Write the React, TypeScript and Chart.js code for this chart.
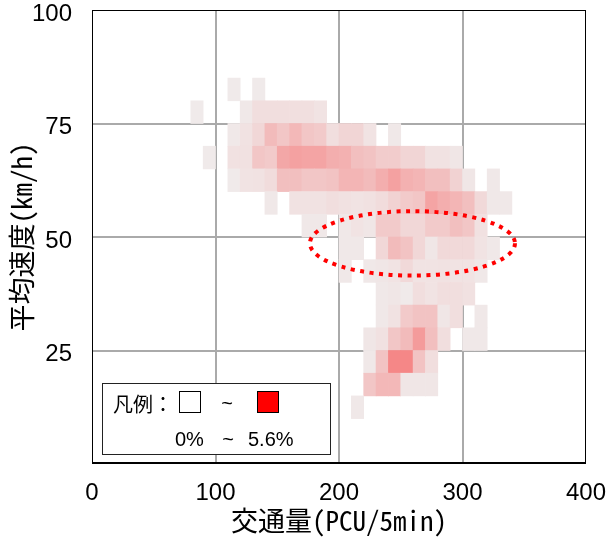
import React, { useEffect, useRef } from 'react';
import { Chart, registerables } from 'chart.js';

Chart.register(...registerables);

// Traffic-flow bins (lower bound, PCU/5min), each 10 wide
const flowBins = [80, 90, 100, 110, 120, 130, 140, 150, 160, 170, 180, 190, 200, 210, 220, 230, 240, 250, 260, 270, 280, 290, 300, 310, 320, 330];
// Speed bins (lower bound, km/h), each 5 high
const speedBins = [80, 75, 70, 65, 60, 55, 50, 45, 40, 35, 30, 25, 20, 15, 10];

// Share of observations (%) per cell, one array per speed bin, aligned with flowBins
const share80 = [0, 0, 0, 0.1, 0, 0.1, 0, 0, 0, 0, 0, 0, 0, 0, 0, 0, 0, 0, 0, 0, 0, 0, 0, 0, 0, 0];
const share75 = [0.1, 0, 0, 0, 0.15, 0.5, 0.5, 0.5, 0.45, 0.45, 0.3, 0, 0, 0, 0, 0, 0, 0, 0, 0, 0, 0, 0, 0, 0, 0];
const share70 = [0, 0, 0, 0.15, 0.35, 0.8, 2.2, 1.6, 2.4, 1.6, 1.4, 0.5, 0.9, 0.9, 0.3, 0, 0.15, 0, 0, 0, 0, 0, 0, 0, 0, 0];
const share65 = [0, 0.1, 0, 0.4, 0.4, 1.6, 1.4, 3.4, 3.8, 3.6, 3.6, 3.0, 2.8, 2.0, 1.8, 1.3, 1.3, 0.9, 0.9, 0.35, 0.35, 0.2, 0, 0, 0, 0];
const share60 = [0, 0, 0, 0.1, 0.3, 0.35, 0.6, 2.0, 2.0, 1.6, 1.6, 1.8, 2.6, 2.6, 2.2, 3.0, 3.8, 2.8, 2.6, 2.0, 2.0, 1.0, 0.2, 0, 0.15, 0];
const share55 = [0, 0, 0, 0, 0, 0, 0.15, 0, 0.35, 0.35, 0.35, 0.5, 0.4, 0.3, 0.4, 0.6, 1.0, 1.4, 1.6, 3.6, 3.0, 2.6, 2.0, 0.7, 0.15, 0.15];
const share50 = [0, 0, 0, 0, 0, 0, 0, 0, 0, 0.15, 0.15, 0, 0.15, 0.3, 0.2, 1.4, 1.4, 0.8, 0.8, 1.4, 1.4, 2.0, 1.6, 0.4, 0, 0];
const share45 = [0, 0, 0, 0, 0, 0, 0, 0, 0, 0, 0, 0, 0.15, 0.15, 0, 0.8, 2.2, 1.8, 0.8, 0.2, 0.7, 0.7, 0.7, 0.3, 0.15, 0];
const share40 = [0, 0, 0, 0, 0, 0, 0, 0, 0, 0, 0, 0, 0.15, 0, 0.15, 0.2, 0.3, 0.7, 0.3, 0.3, 0.35, 0.3, 0.3, 0.15, 0, 0];
const share35 = [0, 0, 0, 0, 0, 0, 0, 0, 0, 0, 0, 0, 0, 0, 0, 0.15, 0.2, 0.1, 0.5, 0.3, 0.5, 0.5, 0.4, 0, 0, 0];
const share30 = [0, 0, 0, 0, 0, 0, 0, 0, 0, 0, 0, 0, 0, 0, 0, 0.15, 0.35, 1.4, 1.8, 1.8, 0.2, 0.5, 0, 0.15, 0, 0];
const share25 = [0, 0, 0, 0, 0, 0, 0, 0, 0, 0, 0, 0, 0, 0, 0.2, 0.4, 1.6, 2.2, 4.2, 2.0, 0.5, 0, 0.15, 0.15, 0, 0];
const share20 = [0, 0, 0, 0, 0, 0, 0, 0, 0, 0, 0, 0, 0, 0, 0.15, 1.8, 5.6, 5.6, 1.8, 0.5, 0, 0, 0, 0, 0, 0];
const share15 = [0, 0, 0, 0, 0, 0, 0, 0, 0, 0, 0, 0, 0, 0, 1.6, 2.4, 2.4, 0.2, 0.2, 0.2, 0, 0, 0, 0, 0, 0];
const share10 = [0, 0, 0, 0, 0, 0, 0, 0, 0, 0, 0, 0, 0, 0.15, 0, 0, 0, 0, 0, 0, 0, 0, 0, 0, 0, 0];

const shareRows = [share80, share75, share70, share65, share60, share55, share50, share45, share40, share35, share30, share25, share20, share15, share10];

const flowBinWidth = 10;
const speedBinHeight = 5;

// Legend range (%)
const legendMin = 0;
const legendMax = 5.6;

// Axis ranges / ticks
const xRange = [0, 400];
const yRange = [0, 100];
const xStep = 100;
const yStep = 25;

// Highlight ellipse (data units): centre and radii
const ellipseCenter = [259.5, 48.6];
const ellipseRadius = [83, 7.1];

const xTitle = '交通量(PCU/5min)';
const yTitle = '平均速度(km/h)';
const legendLabel = '凡例：';

function cellColor(v: number): string {
  const t0 = Math.max(0, Math.min(1, (v - legendMin) / (legendMax - legendMin)));
  const t = Math.pow(t0, 0.75);
  const r = Math.round(240 + (245 - 240) * t);
  const g = Math.round(239 + (135 - 239) * t);
  return `rgb(${r},${g},${g})`;
}

function buildCells() {
  const cells: { x: number; y: [number, number]; v: number }[] = [];
  shareRows.forEach((row, i) => {
    row.forEach((v, j) => {
      if (v > 0) {
        cells.push({
          x: flowBins[j] + flowBinWidth / 2,
          y: [speedBins[i], speedBins[i] + speedBinHeight],
          v,
        });
      }
    });
  });
  return cells;
}

const TICK_FONT = "'Liberation Sans', Arial, sans-serif";
const TITLE_FONT = "'Noto Sans Mono CJK JP', 'DejaVu Sans Mono', 'Noto Sans CJK JP', monospace";
const CJK_FONT = "'Noto Sans CJK JP', sans-serif";

const overlayPlugin = {
  id: 'overlay',
  afterDraw(chart: any) {
    const { ctx, chartArea: a, scales } = chart;
    const xs = scales.x;
    const ys = scales.y;
    ctx.save();

    // Legend box
    const bx = a.left + 10.5;
    const by = a.bottom - 80.5;
    ctx.fillStyle = '#ffffff';
    ctx.fillRect(bx, by, 228, 71);
    ctx.strokeStyle = '#222222';
    ctx.lineWidth = 1;
    ctx.strokeRect(bx, by, 228, 71);

    ctx.fillStyle = '#000000';
    ctx.textBaseline = 'middle';
    ctx.textAlign = 'left';
    ctx.font = `20px ${CJK_FONT}`;
    ctx.fillText(legendLabel, a.left + 21, a.bottom - 60);

    // swatches
    ctx.lineWidth = 1;
    ctx.strokeStyle = '#000000';
    ctx.fillStyle = '#ffffff';
    ctx.fillRect(a.left + 87.5, a.bottom - 72.5, 21, 21);
    ctx.strokeRect(a.left + 87.5, a.bottom - 72.5, 21, 21);
    ctx.fillStyle = '#ff0000';
    ctx.fillRect(a.left + 165.5, a.bottom - 72.5, 21, 21);
    ctx.strokeRect(a.left + 165.5, a.bottom - 72.5, 21, 21);

    ctx.fillStyle = '#000000';
    ctx.font = `20px ${TICK_FONT}`;
    ctx.textAlign = 'center';
    ctx.fillText('~', a.left + 135, a.bottom - 60);
    ctx.textAlign = 'left';
    ctx.fillText(`${legendMin}%`, a.left + 83, a.bottom - 24);
    ctx.textAlign = 'center';
    ctx.fillText('~', a.left + 136, a.bottom - 24);
    ctx.textAlign = 'left';
    ctx.fillText(`${legendMax}%`, a.left + 156, a.bottom - 24);

    // Dotted ellipse
    const cx = xs.getPixelForValue(ellipseCenter[0]);
    const cy = ys.getPixelForValue(ellipseCenter[1]);
    const rx = xs.getPixelForValue(ellipseCenter[0] + ellipseRadius[0]) - cx;
    const ry = cy - ys.getPixelForValue(ellipseCenter[1] + ellipseRadius[1]);
    ctx.beginPath();
    ctx.ellipse(cx, cy, rx, ry, 0, 0, Math.PI * 2);
    ctx.setLineDash([4, 5.5]);
    ctx.lineWidth = 4;
    ctx.strokeStyle = '#ff0000';
    ctx.stroke();
    ctx.setLineDash([]);

    // Frame
    ctx.strokeStyle = '#000000';
    ctx.lineWidth = 1;
    ctx.strokeRect(a.left + 0.5, a.top + 0.5, a.width - 1, a.height - 1);
    ctx.lineWidth = 2;
    ctx.beginPath();
    ctx.moveTo(a.left, a.bottom - 1);
    ctx.lineTo(a.right, a.bottom - 1);
    ctx.stroke();

    ctx.restore();
  },
};

export default function App() {
  const canvasRef = useRef<HTMLCanvasElement | null>(null);

  useEffect(() => {
    const canvas = canvasRef.current;
    if (!canvas) return;
    const chart = new Chart(canvas, {
      type: 'bar',
      data: {
        datasets: [
          {
            data: buildCells() as any,
            backgroundColor: (c: any) => (c.raw ? cellColor(c.raw.v) : 'transparent'),
            borderWidth: 0,
            barPercentage: 1,
            categoryPercentage: 1,
          } as any,
        ],
      },
      plugins: [overlayPlugin],
      options: {
        animation: false,
        responsive: false,
        events: [],
        layout: { padding: { top: 10, right: 22, left: 0, bottom: 0 } },
        plugins: {
          legend: { display: false },
          tooltip: { enabled: false },
        },
        scales: {
          x: {
            type: 'linear',
            min: xRange[0],
            max: xRange[1],
            offset: false,
            z: 1,
            border: { display: false },
            grid: {
              offset: false,
              drawTicks: false,
              lineWidth: 2,
              color: (c: any) =>
                c.tick && (c.tick.value === xRange[0] || c.tick.value === xRange[1]) ? 'rgba(0,0,0,0)' : '#aaaaaa',
            },
            ticks: {
              stepSize: xStep,
              padding: 15,
              color: '#000000',
              font: { family: TICK_FONT, size: 24 },
              maxRotation: 0,
            },
            title: {
              display: true,
              text: xTitle,
              color: '#000000',
              font: { family: TITLE_FONT, size: 27 },
              padding: { top: 0, bottom: 3 },
            },
            afterFit: (s: any) => {
              s.height = 76;
              s.paddingLeft = 0;
              s.paddingRight = 0;
            },
          },
          y: {
            type: 'linear',
            min: yRange[0],
            max: yRange[1],
            z: 1,
            border: { display: false },
            grid: {
              drawTicks: false,
              lineWidth: 2,
              color: (c: any) =>
                c.tick && (c.tick.value === yRange[0] || c.tick.value === yRange[1]) ? 'rgba(0,0,0,0)' : '#aaaaaa',
            },
            ticks: {
              stepSize: yStep,
              padding: 20,
              labelOffset: 4,
              color: '#000000',
              font: { family: TICK_FONT, size: 24 },
              callback: (v: any) => (Number(v) === 0 ? '' : String(v)),
            },
            title: {
              display: true,
              text: yTitle,
              color: '#000000',
              font: { family: TITLE_FONT, size: 27 },
              padding: { top: 6, bottom: 0 },
            },
            afterFit: (s: any) => {
              s.width = 92;
              s.paddingTop = 0;
              s.paddingBottom = 0;
            },
          },
        },
      } as any,
    });
    return () => chart.destroy();
  }, []);

  return (
    <div style={{ position: 'absolute', left: 0, top: 0, width: 608, height: 540 }}>
      <canvas ref={canvasRef} width={608} height={540} style={{ display: 'block' }} />
    </div>
  );
}
